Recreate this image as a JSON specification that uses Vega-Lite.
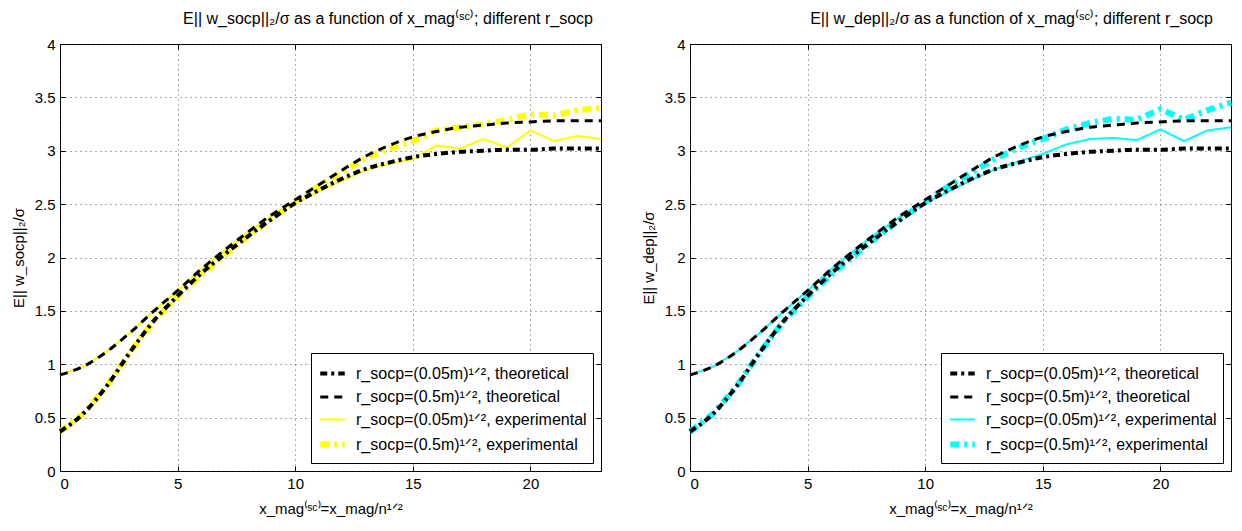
{
  "$schema": "https://vega.github.io/schema/vega-lite/v6.json",
  "background": "white",
  "padding": {"left": 10, "top": 10, "right": 5, "bottom": 5},
  "config": {
    "font": "Liberation Sans",
    "view": {"stroke": "#000", "strokeWidth": 1},
    "axis": {
      "labelFont": "Liberation Sans", "labelFontSize": 15, "labelColor": "#000",
      "titleFont": "Liberation Sans", "titleFontSize": 15, "titleFontWeight": "normal", "titleColor": "#000",
      "domain": false, "tickColor": "#000", "tickSize": -5, "labelPadding": 10,
      "gridColor": "#333", "gridDash": [1, 4], "gridOpacity": 0.8
    },
    "legend": {
      "orient": "bottom-right", "offset": 8, "strokeColor": "#000", "fillColor": "#fff",
      "padding": 6, "symbolType": "stroke", "symbolSize": 600, "labelFont": "Liberation Sans",
      "labelFontSize": 16, "labelColor": "#000", "rowPadding": 1, "labelLimit": 500, "cornerRadius": 0, "labelOffset": 8
    }
  },
  "datasets": {
    "theory": [
      {"s":"t05","x":0,"y":0.37},{"s":"t05","x":1,"y":0.54},{"s":"t05","x":2,"y":0.80},{"s":"t05","x":3,"y":1.12},
      {"s":"t05","x":4,"y":1.41},{"s":"t05","x":5,"y":1.64},{"s":"t05","x":6,"y":1.85},{"s":"t05","x":7,"y":2.03},
      {"s":"t05","x":8,"y":2.20},{"s":"t05","x":9,"y":2.36},{"s":"t05","x":10,"y":2.51},{"s":"t05","x":11,"y":2.63},
      {"s":"t05","x":12,"y":2.74},{"s":"t05","x":13,"y":2.83},{"s":"t05","x":14,"y":2.89},{"s":"t05","x":15,"y":2.94},
      {"s":"t05","x":16,"y":2.97},{"s":"t05","x":17,"y":2.99},{"s":"t05","x":18,"y":3.00},{"s":"t05","x":19,"y":3.01},
      {"s":"t05","x":20,"y":3.01},{"s":"t05","x":21,"y":3.02},{"s":"t05","x":22,"y":3.02},{"s":"t05","x":23,"y":3.02},
      {"s":"t5","x":0,"y":0.90},{"s":"t5","x":1,"y":0.98},{"s":"t5","x":2,"y":1.12},{"s":"t5","x":3,"y":1.30},
      {"s":"t5","x":4,"y":1.50},{"s":"t5","x":5,"y":1.69},{"s":"t5","x":6,"y":1.89},{"s":"t5","x":7,"y":2.07},
      {"s":"t5","x":8,"y":2.24},{"s":"t5","x":9,"y":2.40},{"s":"t5","x":10,"y":2.54},{"s":"t5","x":11,"y":2.68},
      {"s":"t5","x":12,"y":2.82},{"s":"t5","x":13,"y":2.95},{"s":"t5","x":14,"y":3.05},{"s":"t5","x":15,"y":3.13},
      {"s":"t5","x":16,"y":3.18},{"s":"t5","x":17,"y":3.22},{"s":"t5","x":18,"y":3.24},{"s":"t5","x":19,"y":3.26},
      {"s":"t5","x":20,"y":3.27},{"s":"t5","x":21,"y":3.28},{"s":"t5","x":22,"y":3.28},{"s":"t5","x":23,"y":3.28}
    ],
    "expL": [
      {"s":"e05","x":0,"y":0.90},{"s":"e05","x":1,"y":0.98},{"s":"e05","x":2,"y":1.12},{"s":"e05","x":3,"y":1.30},
      {"s":"e05","x":4,"y":1.50},{"s":"e05","x":5,"y":1.69},{"s":"e05","x":6,"y":1.89},{"s":"e05","x":7,"y":2.07},
      {"s":"e05","x":8,"y":2.24},{"s":"e05","x":9,"y":2.39},{"s":"e05","x":10,"y":2.51},{"s":"e05","x":11,"y":2.62},
      {"s":"e05","x":12,"y":2.72},{"s":"e05","x":13,"y":2.82},{"s":"e05","x":14,"y":2.88},{"s":"e05","x":15,"y":2.92},
      {"s":"e05","x":16,"y":3.05},{"s":"e05","x":17,"y":3.02},{"s":"e05","x":18,"y":3.11},{"s":"e05","x":19,"y":3.03},
      {"s":"e05","x":20,"y":3.19},{"s":"e05","x":21,"y":3.09},{"s":"e05","x":22,"y":3.14},{"s":"e05","x":23,"y":3.11},
      {"s":"e5","x":0,"y":0.37},{"s":"e5","x":1,"y":0.54},{"s":"e5","x":2,"y":0.80},{"s":"e5","x":3,"y":1.12},
      {"s":"e5","x":4,"y":1.41},{"s":"e5","x":5,"y":1.63},{"s":"e5","x":6,"y":1.84},{"s":"e5","x":7,"y":2.02},
      {"s":"e5","x":8,"y":2.20},{"s":"e5","x":9,"y":2.37},{"s":"e5","x":10,"y":2.52},{"s":"e5","x":11,"y":2.67},
      {"s":"e5","x":12,"y":2.80},{"s":"e5","x":13,"y":2.93},{"s":"e5","x":14,"y":3.02},{"s":"e5","x":15,"y":3.09},
      {"s":"e5","x":16,"y":3.19},{"s":"e5","x":17,"y":3.22},{"s":"e5","x":18,"y":3.25},{"s":"e5","x":19,"y":3.29},
      {"s":"e5","x":20,"y":3.34},{"s":"e5","x":21,"y":3.33},{"s":"e5","x":22,"y":3.38},{"s":"e5","x":23,"y":3.40}
    ],
    "expR": [
      {"s":"e05","x":0,"y":0.90},{"s":"e05","x":1,"y":0.98},{"s":"e05","x":2,"y":1.12},{"s":"e05","x":3,"y":1.30},
      {"s":"e05","x":4,"y":1.50},{"s":"e05","x":5,"y":1.69},{"s":"e05","x":6,"y":1.89},{"s":"e05","x":7,"y":2.07},
      {"s":"e05","x":8,"y":2.24},{"s":"e05","x":9,"y":2.39},{"s":"e05","x":10,"y":2.51},{"s":"e05","x":11,"y":2.62},
      {"s":"e05","x":12,"y":2.73},{"s":"e05","x":13,"y":2.83},{"s":"e05","x":14,"y":2.90},{"s":"e05","x":15,"y":2.97},
      {"s":"e05","x":16,"y":3.06},{"s":"e05","x":17,"y":3.11},{"s":"e05","x":18,"y":3.12},{"s":"e05","x":19,"y":3.10},
      {"s":"e05","x":20,"y":3.20},{"s":"e05","x":21,"y":3.09},{"s":"e05","x":22,"y":3.19},{"s":"e05","x":23,"y":3.22},
      {"s":"e5","x":0,"y":0.37},{"s":"e5","x":1,"y":0.54},{"s":"e5","x":2,"y":0.80},{"s":"e5","x":3,"y":1.12},
      {"s":"e5","x":4,"y":1.41},{"s":"e5","x":5,"y":1.63},{"s":"e5","x":6,"y":1.84},{"s":"e5","x":7,"y":2.02},
      {"s":"e5","x":8,"y":2.20},{"s":"e5","x":9,"y":2.37},{"s":"e5","x":10,"y":2.52},{"s":"e5","x":11,"y":2.67},
      {"s":"e5","x":12,"y":2.80},{"s":"e5","x":13,"y":2.93},{"s":"e5","x":14,"y":3.03},{"s":"e5","x":15,"y":3.11},
      {"s":"e5","x":16,"y":3.20},{"s":"e5","x":17,"y":3.26},{"s":"e5","x":18,"y":3.30},{"s":"e5","x":19,"y":3.29},
      {"s":"e5","x":20,"y":3.39},{"s":"e5","x":21,"y":3.29},{"s":"e5","x":22,"y":3.38},{"s":"e5","x":23,"y":3.45}
    ]
  },
  "spacing": 89,
  "bounds": "flush",
  "resolve": {"scale": {"color": "independent", "strokeDash": "independent", "strokeWidth": "independent"}},
  "hconcat": [
    {
      "width": 541, "height": 427,
      "title": {"text": "E|| w_socp||₂/σ as a function of x_mag⁽ˢᶜ⁾; different r_socp", "font": "Liberation Sans", "fontSize": 16, "fontWeight": "normal", "color": "#000", "anchor": "end", "dx": -20, "offset": 10},
      "resolve": {"axis": {"x": "independent", "y": "independent"}},
      "encoding": {
        "x": {"field": "x", "type": "quantitative", "scale": {"domain": [0, 23], "nice": false, "zero": false}},
        "y": {"field": "y", "type": "quantitative", "scale": {"domain": [0, 4], "nice": false}},
        "color": {"field": "s", "type": "nominal", "scale": {"domain": ["t05", "t5", "e05", "e5"], "range": ["#000000", "#000000", "#ffff00", "#ffff00"]},
          "legend": {"title": null, "labelExpr": "datum.label == 't05' ? 'r_socp=(0.05m)¹ᐟ², theoretical' : datum.label == 't5' ? 'r_socp=(0.5m)¹ᐟ², theoretical' : datum.label == 'e05' ? 'r_socp=(0.05m)¹ᐟ², experimental' : 'r_socp=(0.5m)¹ᐟ², experimental'"}},
        "strokeDash": {"field": "s", "type": "nominal", "scale": {"domain": ["t05", "t5", "e05", "e5"], "range": [[7, 4, 3, 4], [8, 6], [1, 0], [9, 5, 3, 5]]}, "legend": {"title": null}},
        "strokeWidth": {"field": "s", "type": "nominal", "scale": {"type": "ordinal", "domain": ["t05", "t5", "e05", "e5"], "range": [4, 3, 2, 6]}, "legend": {"title": null}}
      },
      "layer": [
        {
          "data": {"name": "expL"},
          "mark": {"type": "line", "interpolate": "linear"},
          "encoding": {
            "x": {"field": "x", "type": "quantitative", "axis": {"values": [0, 5, 10, 15, 20], "grid": true, "title": "x_mag⁽ˢᶜ⁾=x_mag/n¹ᐟ²", "titlePadding": 10}},
            "y": {"field": "y", "type": "quantitative", "axis": {"values": [0, 0.5, 1, 1.5, 2, 2.5, 3, 3.5, 4], "format": "~g", "grid": true, "title": "E|| w_socp||₂/σ", "titlePadding": 8}}
          }
        },
        {
          "data": {"name": "theory"},
          "mark": {"type": "line", "interpolate": "monotone"},
          "encoding": {
            "x": {"field": "x", "type": "quantitative", "axis": {"orient": "top", "values": [0, 5, 10, 15, 20], "labels": false, "grid": false, "title": null}},
            "y": {"field": "y", "type": "quantitative", "axis": {"orient": "right", "values": [0, 0.5, 1, 1.5, 2, 2.5, 3, 3.5, 4], "labels": false, "grid": false, "title": null}}
          }
        }
      ]
    },
    {
      "width": 541, "height": 427,
      "title": {"text": "E|| w_dep||₂/σ as a function of x_mag⁽ˢᶜ⁾; different r_socp", "font": "Liberation Sans", "fontSize": 16, "fontWeight": "normal", "color": "#000", "anchor": "end", "dx": -30, "offset": 10},
      "resolve": {"axis": {"x": "independent", "y": "independent"}},
      "encoding": {
        "x": {"field": "x", "type": "quantitative", "scale": {"domain": [0, 23], "nice": false, "zero": false}},
        "y": {"field": "y", "type": "quantitative", "scale": {"domain": [0, 4], "nice": false}},
        "color": {"field": "s", "type": "nominal", "scale": {"domain": ["t05", "t5", "e05", "e5"], "range": ["#000000", "#000000", "#00ffff", "#00ffff"]},
          "legend": {"title": null, "labelExpr": "datum.label == 't05' ? 'r_socp=(0.05m)¹ᐟ², theoretical' : datum.label == 't5' ? 'r_socp=(0.5m)¹ᐟ², theoretical' : datum.label == 'e05' ? 'r_socp=(0.05m)¹ᐟ², experimental' : 'r_socp=(0.5m)¹ᐟ², experimental'"}},
        "strokeDash": {"field": "s", "type": "nominal", "scale": {"domain": ["t05", "t5", "e05", "e5"], "range": [[7, 4, 3, 4], [8, 6], [1, 0], [9, 5, 3, 5]]}, "legend": {"title": null}},
        "strokeWidth": {"field": "s", "type": "nominal", "scale": {"type": "ordinal", "domain": ["t05", "t5", "e05", "e5"], "range": [4, 3, 2, 6]}, "legend": {"title": null}}
      },
      "layer": [
        {
          "data": {"name": "expR"},
          "mark": {"type": "line", "interpolate": "linear"},
          "encoding": {
            "x": {"field": "x", "type": "quantitative", "axis": {"values": [0, 5, 10, 15, 20], "grid": true, "title": "x_mag⁽ˢᶜ⁾=x_mag/n¹ᐟ²", "titlePadding": 10}},
            "y": {"field": "y", "type": "quantitative", "axis": {"values": [0, 0.5, 1, 1.5, 2, 2.5, 3, 3.5, 4], "format": "~g", "grid": true, "title": "E|| w_dep||₂/σ", "titlePadding": 8}}
          }
        },
        {
          "data": {"name": "theory"},
          "mark": {"type": "line", "interpolate": "monotone"},
          "encoding": {
            "x": {"field": "x", "type": "quantitative", "axis": {"orient": "top", "values": [0, 5, 10, 15, 20], "labels": false, "grid": false, "title": null}},
            "y": {"field": "y", "type": "quantitative", "axis": {"orient": "right", "values": [0, 0.5, 1, 1.5, 2, 2.5, 3, 3.5, 4], "labels": false, "grid": false, "title": null}}
          }
        }
      ]
    }
  ]
}
